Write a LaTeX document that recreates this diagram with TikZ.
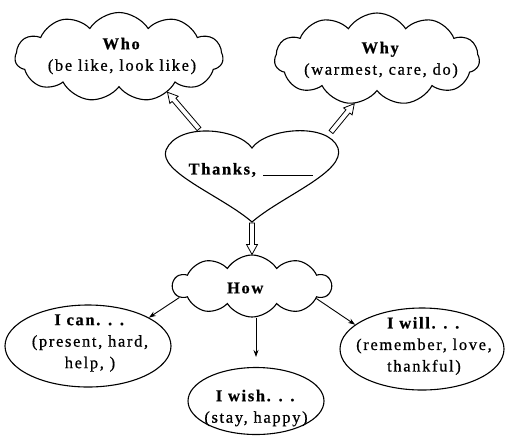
\documentclass[tikz,border=0pt]{standalone}
\usepackage{fontspec}
\setmainfont{Liberation Serif}[LetterSpace=10, FakeBold=0.7, BoldFeatures={FakeBold=0.6}]
\usetikzlibrary{shapes.symbols,shapes.geometric,calc,arrows.meta}
\newcommand\hollowarrow[2]{%
  \path (#1) coordinate (ha) (#2) coordinate (hb);
  \coordinate (hh) at ($(hb)!10pt!(ha)$);
  \draw[hollow] ($(ha)!2.5pt!90:(hb)$) -- ($(hh)!2.5pt!-90:(ha)$) -- ($(hh)!5.5pt!-90:(ha)$) -- (hb)
    -- ($(hh)!5.5pt!90:(ha)$) -- ($(hh)!2.5pt!90:(ha)$) -- ($(ha)!2.5pt!-90:(hb)$) -- cycle;}
\begin{document}
\begin{tikzpicture}[x=1pt,y=-1pt, line width=1.1pt,
  cloudbox/.style={cloud, draw, cloud puffs=11, cloud puff arc=115, inner sep=0pt},
  ovalbox/.style={ellipse, draw, inner sep=0pt},
  txt/.style={align=center, inner sep=0pt, font=\fontsize{16.5}{21.5}\selectfont},
  thinarrow/.style={-{Stealth[length=7pt,width=5pt]}, line width=0.9pt},
  hollow/.style={line width=0.8pt, fill=white}]
\useasboundingbox (0,0) rectangle (505,437);
% clouds
\node[cloudbox, minimum width=208pt, minimum height=89pt] (who) at (119,57) {};
\node[txt] (whotext) at (122,56) {\textbf{Who}\\(be like, look like)};
\node[cloudbox, minimum width=205pt, minimum height=92pt] (why) at (377,59) {};
\node[txt] (whytext) at (381,60) {\textbf{Why}\\(warmest, care, do)};
\node[cloudbox, cloud puffs=10, minimum width=158pt, minimum height=62pt] (how) at (252,286) {};
\node[txt] (howtext) at (246,288) {\textbf{How}};
% heart
\draw (252,148) .. controls (238,128) and (178,122) .. (166,150)
  .. controls (158,172) and (222,196) .. (252,222)
  .. controls (282,196) and (346,172) .. (338,148)
  .. controls (328,122) and (266,128) .. (252,148) -- cycle;
\node[txt] (thanks) at (251,170) {\textbf{Thanks,} \rule[-1pt]{50pt}{0.8pt}};
\coordinate (hTL) at (199,129);
\coordinate (hTR) at (331,132);
\coordinate (hTip) at (252,223);
% ovals
\node[ovalbox, minimum width=166pt, minimum height=82pt] (ican) at (88,346) {};
\node[txt] (icantext) at (90,343) {\textbf{I can. . .}\\(present, hard,\\help, )};
\node[ovalbox, minimum width=136pt, minimum height=67pt] (iwish) at (256,401) {};
\node[txt] (iwishtext) at (256,408) {\textbf{I wish. . .}\\(stay, happy)};
\node[ovalbox, minimum width=164pt, minimum height=82pt] (iwill) at (422,349) {};
\node[txt] (iwilltext) at (424,346) {\textbf{I will. . .}\\(remember, love,\\thankful)};
% hollow arrows
\hollowarrow{hTL}{who.-36}
\hollowarrow{hTR}{why.243}
\hollowarrow{hTip}{how.north}
% thin arrows
\draw[thinarrow] (how.189) -- (ican.25);
\draw[thinarrow, shorten >=10pt] (iwish.north |- how.south) -- (iwish.north);
\draw[thinarrow] (how.-11) -- (iwill.160);
\end{tikzpicture}
\end{document}
